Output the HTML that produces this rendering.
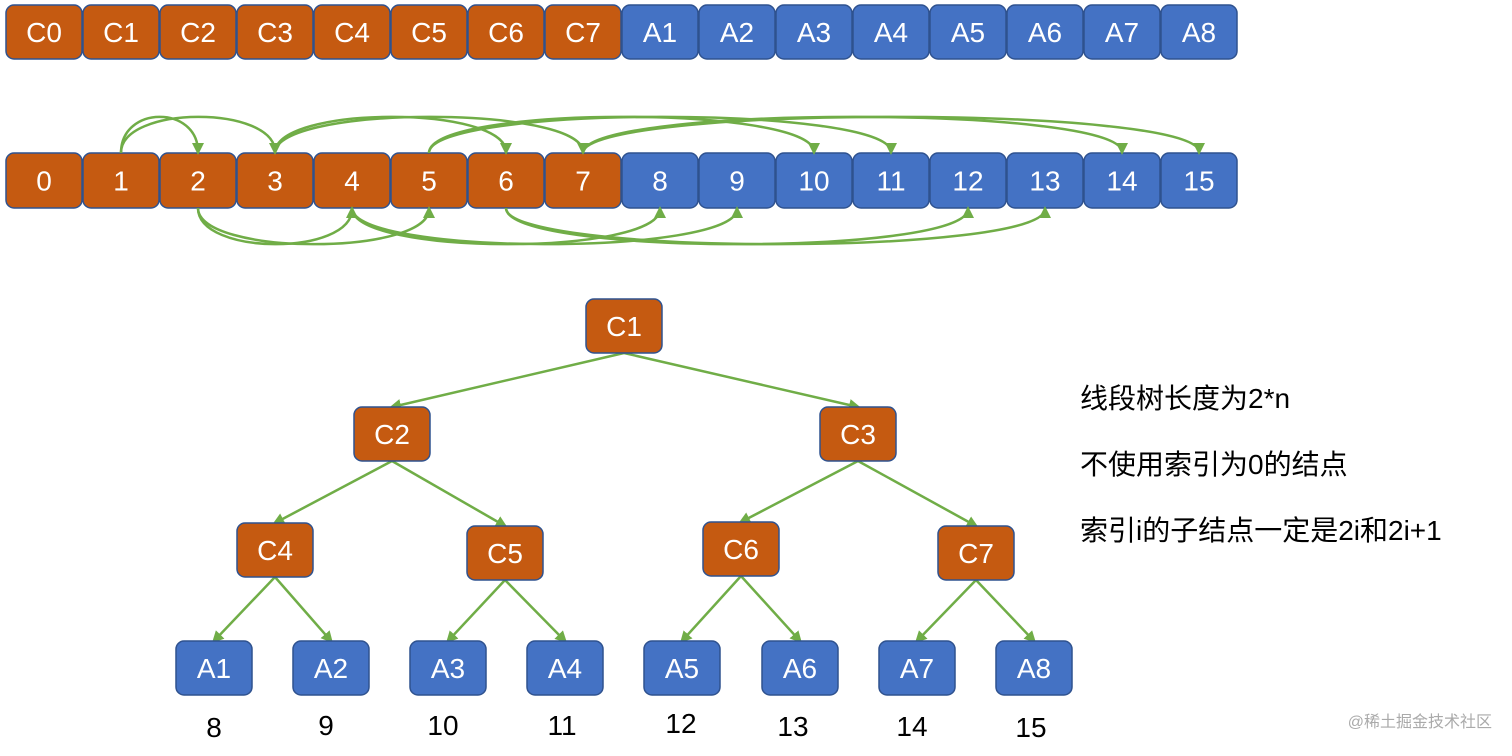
<!DOCTYPE html>
<html><head><meta charset="utf-8"><style>
body{margin:0;background:#fff;width:1512px;height:751px;overflow:hidden}
svg text{font-family:"Liberation Sans","Noto Sans CJK SC",sans-serif}
</style></head><body>
<svg width="1512" height="751" viewBox="0 0 1512 751" xmlns="http://www.w3.org/2000/svg">
<defs>
<marker id="ah" markerWidth="8" markerHeight="8" refX="6" refY="4" orient="auto" markerUnits="userSpaceOnUse" viewBox="0 0 8 8">
<path d="M0,0 L8,4 L0,8 z" fill="#70AD47"/></marker>
<marker id="ah2" markerWidth="12" markerHeight="12" refX="9" refY="6" orient="auto" markerUnits="userSpaceOnUse" viewBox="0 0 12 12">
<path d="M0,0 L12,6 L0,12 z" fill="#70AD47"/></marker>
</defs>
<g id="r1" font-size="28" fill="#fff" text-anchor="middle">
</g>
<script>
(function(){
var ns="http://www.w3.org/2000/svg",s=document.querySelector('svg');
function rect(x,y,w,h,fill,label,fs){
 var r=document.createElementNS(ns,'rect');
 r.setAttribute('x',x);r.setAttribute('y',y);r.setAttribute('width',w);r.setAttribute('height',h);
 r.setAttribute('rx',8);r.setAttribute('fill',fill);r.setAttribute('stroke','#2F528F');r.setAttribute('stroke-width','1.5');
 s.appendChild(r);
 var t=document.createElementNS(ns,'text');t.setAttribute('x',x+w/2);t.setAttribute('y',y+h/2+10);
 t.setAttribute('text-anchor','middle');t.setAttribute('fill','#fff');t.setAttribute('font-size',fs||28);t.textContent=label;s.appendChild(t);
}
var O='#C55A11',B='#4472C4';
var r1=['C0','C1','C2','C3','C4','C5','C6','C7','A1','A2','A3','A4','A5','A6','A7','A8'];
for(var i=0;i<16;i++){rect(6+i*77,5,76,54,i<8?O:B,r1[i]);rect(6+i*77,153,76,55,i<8?O:B,''+i);}
function cx(i){return 44+77*i;}
function path(d){var p=document.createElementNS(ns,'path');p.setAttribute('d',d);p.setAttribute('fill','none');
 p.setAttribute('stroke','#70AD47');p.setAttribute('stroke-width','2.5');p.setAttribute('marker-end','url(#ah2)');s.appendChild(p);}
[[1,2],[1,3],[3,6],[3,7],[5,10],[5,11],[7,14],[7,15]].forEach(function(a){
 var x1=cx(a[0]),x2=cx(a[1]);path('M'+x1+',153 C'+x1+',105 '+x2+',105 '+x2+',152');});
[[2,4],[2,5],[4,8],[4,9],[6,12],[6,13]].forEach(function(a){
 var x1=cx(a[0]),x2=cx(a[1]);path('M'+x1+',208 C'+x1+',256 '+x2+',256 '+x2+',209');});
// tree
var N={C1:[586,299],C2:[354,407],C3:[820,407],C4:[237,523],C5:[467,526],C6:[703,522],C7:[938,526],
A1:[176,641],A2:[293,641],A3:[410,641],A4:[527,641],A5:[644,641],A6:[762,641],A7:[879,641],A8:[996,641]};
var E=[['C1','C2'],['C1','C3'],['C2','C4'],['C2','C5'],['C3','C6'],['C3','C7'],['C4','A1'],['C4','A2'],['C5','A3'],['C5','A4'],['C6','A5'],['C6','A6'],['C7','A7'],['C7','A8']];
E.forEach(function(e){var a=N[e[0]],b=N[e[1]];
 var l=document.createElementNS(ns,'line');l.setAttribute('x1',a[0]+38);l.setAttribute('y1',a[1]+54);
 l.setAttribute('x2',b[0]+38);l.setAttribute('y2',b[1]);l.setAttribute('stroke','#70AD47');l.setAttribute('stroke-width','2.5');
 l.setAttribute('marker-end','url(#ah2)');s.appendChild(l);});
for(var k in N){rect(N[k][0],N[k][1],76,54,k[0]=='C'?O:B,k);}
var nums=[[214,737,'8'],[326,735,'9'],[443,735,'10'],[562,735,'11'],[681,733,'12'],[793,736,'13'],[912,736,'14'],[1031,737,'15']];
nums.forEach(function(n){var t=document.createElementNS(ns,'text');t.setAttribute('x',n[0]);t.setAttribute('y',n[1]);
 t.setAttribute('text-anchor','middle');t.setAttribute('font-size',28);t.setAttribute('fill','#000');t.textContent=n[2];s.appendChild(t);});
})();
</script>
<text x="1080" y="408" font-size="28" fill="#000">线段树长度为2*n</text>
<text x="1080" y="474" font-size="28" fill="#000">不使用索引为0的结点</text>
<text x="1080" y="540" font-size="28" fill="#000">索引i的子结点一定是2i和2i+1</text>
<text x="1492" y="727" font-size="16" fill="#aaa" text-anchor="end">@稀土掘金技术社区</text>
</svg>
</body></html>
